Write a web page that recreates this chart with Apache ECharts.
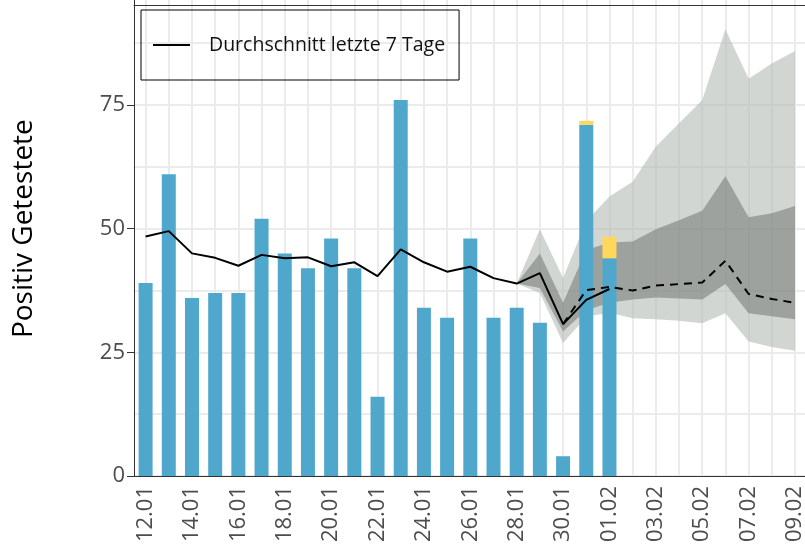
<!DOCTYPE html>
<html>
<head>
<meta charset="utf-8">
<script src="https://cdn.jsdelivr.net/npm/echarts@6/dist/echarts.min.js"></script>
<style>
  html, body { margin: 0; padding: 0; background: #fff; }
  #chart { width: 805px; height: 556px; }
</style>
</head>
<body>
<div id="chart"></div>
<script>
// Tage 12.01 - 09.02
var days = ['12.01', '13.01', '14.01', '15.01', '16.01', '17.01', '18.01', '19.01', '20.01', '21.01',
            '22.01', '23.01', '24.01', '25.01', '26.01', '27.01', '28.01', '29.01', '30.01', '31.01',
            '01.02', '02.02', '03.02', '04.02', '05.02', '06.02', '07.02', '08.02', '09.02'];

// positiv Getestete pro Tag
var positiv = [39, 61, 36, 37, 37, 52, 45, 42, 48, 42,
               16, 76, 34, 32, 48, 32, 34, 31, 4, 71,
               44, null, null, null, null, null, null, null, null];
// Nachmeldungen (gelb)
var nachmeldung = [null, null, null, null, null, null, null, null, null, null,
                   null, null, null, null, null, null, null, null, null, 0.8,
                   4.4, null, null, null, null, null, null, null, null];

// Durchschnitt letzte 7 Tage
var schnitt7 = [48.4, 49.5, 45.0, 44.1, 42.5, 44.7, 44.0, 44.2, 42.4, 43.2,
                40.4, 45.8, 43.2, 41.3, 42.3, 40.0, 38.9, 41.0, 30.7, 35.6,
                37.8, null, null, null, null, null, null, null, null];
// Prognose (gestrichelt)
var prognose = [null, null, null, null, null, null, null, null, null, null,
                null, null, null, null, null, null, null, null, 30.7, 37.6,
                38.2, 37.5, 38.5, 38.8, 39.1, 43.5, 36.8, 35.8, 35.0];

// Unsicherheitsbaender
var aussenUnten = [null, null, null, null, null, null, null, null, null, null,
                   null, null, null, null, null, null, 38.9, 37.0, 26.9, 32.2,
                   33.0, 31.9, 31.7, 31.4, 30.9, 32.9, 27.2, 26.1, 25.3];
var aussenOben = [null, null, null, null, null, null, null, null, null, null,
                  null, null, null, null, null, null, 38.9, 49.9, 40.0, 51.5,
                  56.5, 59.5, 66.6, 71.3, 76.0, 90.3, 80.3, 83.4, 85.9];
var innenUnten = [null, null, null, null, null, null, null, null, null, null,
                  null, null, null, null, null, null, 38.9, 38.0, 29.2, 33.5,
                  35.0, 35.7, 36.1, 35.9, 35.7, 38.8, 32.9, 32.3, 31.7];
var innenOben = [null, null, null, null, null, null, null, null, null, null,
                 null, null, null, null, null, null, 38.9, 45.0, 35.0, 45.7,
                 47.2, 47.4, 49.9, 51.7, 53.6, 60.6, 52.3, 53.1, 54.6];

var yTicks = [0, 25, 50, 75];

function breite(oben, unten) {
    return oben.map(function(v, i) {
        return (v == null || unten[i] == null) ? null : +(v - unten[i]).toFixed(2);
    });
}

var chart = echarts.init(document.getElementById('chart'), null, { renderer: 'canvas' });

var achse = '#333333';
var gitter = '#ebebeb';

var option = {
    animation: false,
    textStyle: { fontFamily: 'Open Sans' },
    grid: [
        { left: 134, width: 672.6, top: -18.7, bottom: 80, outerBoundsMode: 'none', containLabel: false },
        // nur fuer die senkrechten Gitterlinien (erster bis letzter Tag)
        { left: 145.6, width: 649.4, top: -18.7, bottom: 80, outerBoundsMode: 'none', containLabel: false }
    ],
    legend: {
        left: 141, top: 10,
        data: ['Durchschnitt letzte 7 Tage'],
        icon: 'rect', itemWidth: 37, itemHeight: 2,
        padding: [25, 14, 25, 12],
        borderColor: '#000', borderWidth: 1,
        textStyle: { fontSize: 19.5, color: '#111', lineHeight: 18, padding: [0, 0, 0, 14] }
    },
    xAxis: [{
        type: 'category', data: days, gridIndex: 0, position: 'bottom', z: 2,
        axisLine: { lineStyle: { color: achse, width: 1 } },
        axisTick: { alignWithLabel: true, interval: 1, length: 7, lineStyle: { color: achse } },
        axisLabel: { interval: 1, rotate: 90, fontSize: 22, color: '#4d4d4d', margin: 10 },
        splitLine: { show: false }
    }, {
        type: 'category', data: days, gridIndex: 1, boundaryGap: false,
        axisLine: { show: false }, axisTick: { show: false }, axisLabel: { show: false },
        splitLine: { show: true, interval: 0, lineStyle: { color: gitter, width: 2 } }
    }, {
        // Rahmen oben
        type: 'category', data: days, gridIndex: 0, position: 'top', offset: -23.7,
        axisLine: { lineStyle: { color: achse, width: 1 } },
        axisTick: { show: false }, axisLabel: { show: false }, splitLine: { show: false }
    }],
    yAxis: [{
        type: 'value', gridIndex: 0, min: 0, max: 100, interval: 25,
        name: 'Positiv Getestete', nameLocation: 'middle', nameGap: 96,
        nameTextStyle: { fontSize: 28, color: '#000' },
        axisLine: { show: true, lineStyle: { color: achse, width: 1 } },
        axisTick: { show: true, length: 7, lineStyle: { color: achse } },
        axisLabel: {
            fontSize: 22, color: '#4d4d4d', margin: 9,
            formatter: function(v) { return yTicks.indexOf(v) >= 0 ? String(v) : ''; }
        },
        splitLine: { lineStyle: { color: gitter, width: 2 } },
        minorTick: { show: false, splitNumber: 2 },
        minorSplitLine: { show: true, lineStyle: { color: gitter, width: 2 } }
    }, {
        type: 'value', gridIndex: 1, min: 0, max: 100, show: false
    }],
    series: [
        { type: 'line', data: aussenUnten, stack: 'aussen', symbol: 'none', silent: true, z: 1,
          lineStyle: { opacity: 0 } },
        { type: 'line', data: breite(aussenOben, aussenUnten), stack: 'aussen', symbol: 'none', silent: true, z: 1,
          lineStyle: { opacity: 0 }, areaStyle: { color: 'rgba(180,187,182,0.6)', opacity: 1 } },
        { type: 'line', data: innenUnten, stack: 'innen', symbol: 'none', silent: true, z: 1,
          lineStyle: { opacity: 0 } },
        { type: 'line', data: breite(innenOben, innenUnten), stack: 'innen', symbol: 'none', silent: true, z: 1,
          lineStyle: { opacity: 0 }, areaStyle: { color: 'rgba(122,127,123,0.6)', opacity: 1 } },
        { type: 'bar', data: positiv, stack: 'balken', barWidth: 14, z: 3, itemStyle: { color: '#4fa8cb' } },
        { type: 'bar', data: nachmeldung, stack: 'balken', barWidth: 14, z: 3, itemStyle: { color: '#fed85d' } },
        { name: 'Durchschnitt letzte 7 Tage', type: 'line', data: schnitt7, symbol: 'none', z: 4,
          itemStyle: { color: '#000' }, lineStyle: { color: '#000', width: 2 } },
        { type: 'line', data: prognose, symbol: 'none', z: 4,
          lineStyle: { color: '#000', width: 2, type: [8, 6] } }
    ]
};

chart.setOption(option);
</script>
</body>
</html>
